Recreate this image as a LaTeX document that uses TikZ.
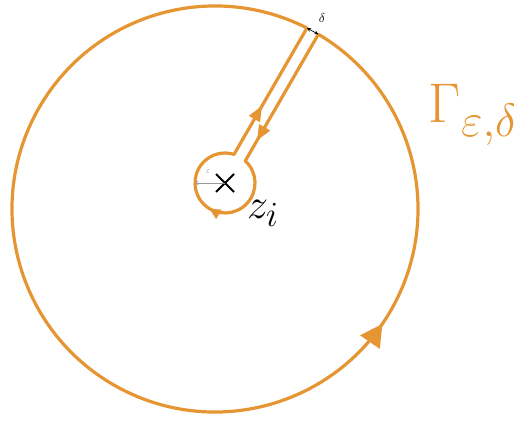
\documentclass[tikz,border=0pt]{standalone}
\usepackage{amsmath,amssymb}
\usepackage{tikz}
\usetikzlibrary{arrows.meta,calc,decorations.markings}
\definecolor{contourOrange}{RGB}{229,150,50}

\begin{document}
\begin{tikzpicture}[x=1pt, y=1pt, >=Stealth,
    contourLine/.style={draw=contourOrange, line width=3.2pt, line join=round},
    crossLine/.style={draw=black, line width=1.8pt},
    epsArrow/.style={draw=gray!80, line width=0.6pt, -{Straight Barb[length=3pt,width=4pt]}},
    deltaArrow/.style={draw=black, line width=0.7pt, {Stealth[length=4pt,width=4pt]}-{Stealth[length=4pt,width=4pt]}},
    tipBig/.style={contourOrange, line width=0pt},
    keyhole/.style={postaction={decorate}, decoration={markings,
        mark=at position 930pt with {\arrow[tipBig]{Triangle[length=22pt,width=24pt]}},
        mark=at position 1385pt with {\arrow[tipBig]{Triangle[length=15pt,width=13pt]}},
        mark=at position 1497pt with {\arrow[tipBig]{Triangle[length=11pt,width=11pt]}},
        mark=at position 1640pt with {\arrow[tipBig]{Triangle[length=15pt,width=13pt]}}}}
]
    \useasboundingbox (0,0) rectangle (514,421);

    % centres
    \coordinate (O) at (215,212);
    \coordinate (C) at (225,238);

    % ends of the slit on the big circle
    \coordinate (A1) at ($(O)+(63.06:203)$);
    \coordinate (A2) at ($(O)+(59.39:203)$);
    \coordinate (B2) at ($(C)+(47.49:30)$);

    % Keyhole contour
    \draw[contourLine, keyhole] (A1)
        arc[start angle=63.06, end angle=419.39, radius=203]
        -- (B2)
        arc[start angle=47.49, end angle=-287.49, radius=30]
        -- cycle;

    % Singularity z_i
    \draw[crossLine] ($(C)+(-9,-9)$) -- ($(C)+(9,9)$);
    \draw[crossLine] ($(C)+(-9,9)$) -- ($(C)+(9,-9)$);
    \node[anchor=base west, font=\Huge, scale=1.7] (zi) at (241,203) {$z_i$};

    % radius epsilon
    \coordinate (E) at ($(C)+(-30,0)$);
    \draw[epsArrow] (C) -- (E);
    \node[font=\normalsize, scale=0.8, text=gray!90!black] (eps) at (208,249) {$\varepsilon$};

    % width delta
    \draw[deltaArrow] (A1) -- (A2);
    \node[font=\normalsize, scale=1.3] (del) at (322,403) {$\delta$};

    % Contour name
    \node[anchor=base west, text=contourOrange, font=\Huge, scale=2.25] (gamma) at (421,298) {$\Gamma_{\varepsilon,\delta}$};

\end{tikzpicture}
\end{document}
